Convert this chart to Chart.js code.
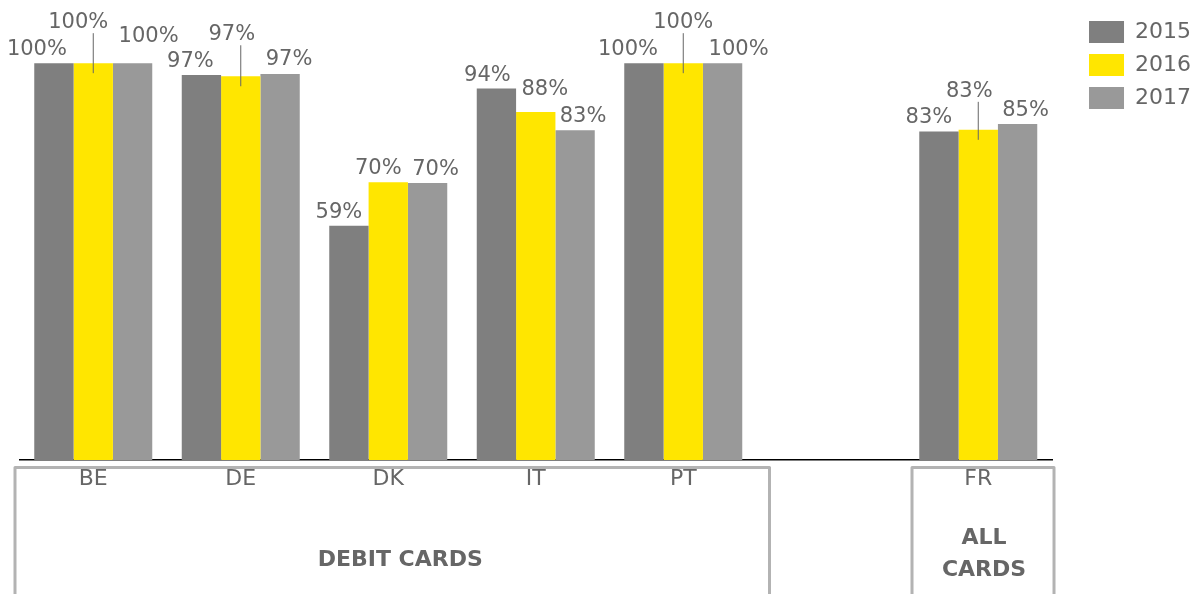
<!DOCTYPE html>
<html>
<head>
<meta charset="utf-8">
<script src="https://cdn.jsdelivr.net/npm/chart.js@4.4.1/dist/chart.umd.min.js"></script>
<style>
  html, body { margin: 0; padding: 0; background: #fff; }
</style>
</head>
<body>
<canvas id="grafico" width="1195" height="594"></canvas>
<script>
// datos del gráfico
var categories = ['BE', 'DE', 'DK', 'IT', 'PT', '', 'FR'];
var seriesNames = ['2015', '2016', '2017'];
var values2015 = [100, 97, 59, 93.6, 100, null, 82.8];
var values2016 = [100, 96.7, 70, 87.7, 100, null, 83.2];
var values2017 = [100, 97.3, 69.8, 83.1, 100, null, 84.7];
var groups = ['DEBIT CARDS', ['ALL', 'CARDS']];
var groupFrom = [0, 6];
var groupTo = [4, 6];

var textColor = '#666666';

// etiquetas de valor encima de cada barra
var barLabels = {
  id: 'barLabels',
  afterDatasetsDraw: function(chart, args, opts) {
    var ctx = chart.ctx;
    ctx.save();
    ctx.font = '21px "DejaVu Sans"';
    ctx.fillStyle = textColor;
    ctx.strokeStyle = textColor;
    ctx.lineWidth = 1;
    ctx.textAlign = 'center';
    ctx.textBaseline = 'alphabetic';
    chart.data.datasets.forEach(function(ds, d) {
      chart.getDatasetMeta(d).data.forEach(function(bar, i) {
        if (ds.data[i] == null) return;
        var s = opts.shift[d][i] || [0, 0];
        var base = bar.y - opts.gap + s[1];
        ctx.fillText(Math.round(ds.data[i]) + '%', bar.x + s[0], base);
        if (s[2]) {
          ctx.beginPath();
          ctx.moveTo(bar.x, base + 5);
          ctx.lineTo(bar.x, bar.y + 10);
          ctx.stroke();
        }
      });
    });
    ctx.restore();
  }
};

// cajas de grupo debajo del eje
var groupBoxes = {
  id: 'groupBoxes',
  afterDraw: function(chart, args, opts) {
    var ctx = chart.ctx;
    var x = chart.scales.x;
    var half = (x.getPixelForValue(1) - x.getPixelForValue(0)) / 2;
    ctx.save();
    ctx.strokeStyle = '#b3b3b3';
    ctx.lineWidth = 3;
    ctx.lineJoin = 'round';
    ctx.fillStyle = textColor;
    ctx.font = 'bold 22px "DejaVu Sans"';
    ctx.textAlign = 'center';
    ctx.textBaseline = 'middle';
    groups.forEach(function(name, g) {
      var l = x.getPixelForValue(groupFrom[g]) - half + opts.pad[g][0];
      var r = x.getPixelForValue(groupTo[g]) + half + opts.pad[g][1];
      ctx.beginPath();
      ctx.moveTo(l, chart.height + 5);
      ctx.lineTo(l, opts.top);
      ctx.lineTo(r, opts.top);
      ctx.lineTo(r, chart.height + 5);
      ctx.stroke();
      [].concat(name).forEach(function(line, k) {
        ctx.fillText(line, (l + r) / 2 + opts.dx[g], opts.y[g] + k * 32);
      });
    });
    ctx.restore();
  }
};

var cfg = {
  type: 'bar',
  data: {
    labels: categories,
    datasets: [
      { label: seriesNames[0], data: values2015, backgroundColor: '#7f7f7f', borderWidth: 0 },
      { label: seriesNames[1], data: values2016, backgroundColor: '#ffe600', borderWidth: 0 },
      { label: seriesNames[2], data: values2017, backgroundColor: '#999999', borderWidth: 0 }
    ]
  },
  options: {
    responsive: false,
    animation: false,
    devicePixelRatio: 1,
    layout: { padding: { left: 19.5, right: -6, top: 10, bottom: 0 } },
    datasets: { bar: { categoryPercentage: 0.8, barPercentage: 1.0 } },
    scales: {
      x: {
        grid: { display: false, drawTicks: false },
        border: { color: '#000', width: 1.5 },
        ticks: { color: textColor, font: { family: 'DejaVu Sans', size: 22 }, padding: 6, maxRotation: 0, autoSkip: false },
        afterFit: function(s) { s.height = 134; }
      },
      y: {
        position: 'right',
        min: 0,
        max: 113.4,
        grid: { display: false },
        border: { display: false },
        ticks: { display: false },
        afterFit: function(s) { s.width = 26; }
      }
    },
    plugins: {
      legend: {
        position: 'right',
        align: 'start',
        labels: {
          color: textColor,
          font: { family: 'DejaVu Sans', size: 22 },
          boxWidth: 35,
          boxHeight: 22,
          padding: 11
        }
      },
      tooltip: { enabled: false },
      barLabels: {
        gap: 8,
        shift: [
          [[-17, 0], [-11, 0], [-10, 0], [-9, 0], [-16, 0], null, [-10, 0]],
          [[-15, -27, 1], [-9, -28, 1], [-10, 0], [9, -9], [0, -27, 1], null, [-9, -25, 1]],
          [[16, -13], [9, -1], [8, 0], [8, 0], [16, 0], null, [8, 0]]
        ]
      },
      groupBoxes: {
        top: 467.5,
        pad: [[-4.5, 12.5], [7.5, 2]],
        dx: [8, 1],
        y: [560, 538]
      }
    }
  },
  plugins: [barLabels, groupBoxes]
};

var draw = new Chart(document.getElementById('grafico'), cfg);
</script>
</body>
</html>
